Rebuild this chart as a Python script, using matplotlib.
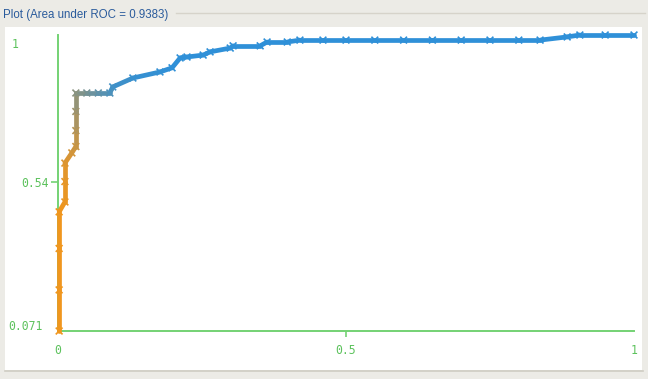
import matplotlib
matplotlib.use("Agg")
import matplotlib.pyplot as plt
from matplotlib.collections import LineCollection
from matplotlib.colors import LinearSegmentedColormap
from matplotlib.patches import Rectangle
from matplotlib.lines import Line2D
import numpy as np

# ROC points (false positive rate, true positive rate)
fpr = [0.002, 0.002, 0.002, 0.002, 0.012, 0.012, 0.012, 0.024, 0.031,
       0.031, 0.031, 0.031, 0.05, 0.07, 0.09, 0.095, 0.13, 0.177, 0.198,
       0.212, 0.224, 0.252, 0.264, 0.299, 0.304, 0.351, 0.363, 0.398, 0.42,
       0.46, 0.5, 0.55, 0.6, 0.65, 0.7, 0.75, 0.8, 0.837, 0.884, 0.906,
       0.95, 1.0]
tpr = [0.071, 0.20, 0.33, 0.445, 0.476, 0.54, 0.598, 0.63, 0.65,
       0.70, 0.76, 0.818, 0.818, 0.818, 0.818, 0.837, 0.865, 0.884, 0.897,
       0.928, 0.931, 0.937, 0.947, 0.959, 0.966, 0.966, 0.978, 0.978, 0.984,
       0.984, 0.984, 0.984, 0.984, 0.984, 0.984, 0.984, 0.984, 0.984, 0.994, 1.0,
       1.0, 1.0]
# colour value along the curve (1 = orange, 0 = blue)
threshold = [1, 1, 1, 1, 0.97, 0.95, 0.9, 0.85, 0.8,
             0.7, 0.58, 0.47, 0.37, 0.26, 0.16, 0.1, 0.05, 0.02, 0,
             0, 0, 0, 0, 0, 0, 0, 0, 0, 0,
             0, 0, 0, 0, 0, 0, 0, 0, 0, 0, 0,
             0, 0]
auc = 0.9383

cmap = LinearSegmentedColormap.from_list("roc", ["#2f90d8", "#f0961e"])
bg = "#ecebe6"
axis_green = "#74d274"
label_green = "#5cc25c"

fig = plt.figure(figsize=(6.48, 3.79), dpi=100, facecolor=bg)
W, H = 648, 379

# white panel + frame
fig.patches.append(Rectangle((5 / W, 1 - 370 / H), 637 / W, 343 / H,
                             transform=fig.transFigure, facecolor="white",
                             edgecolor="none", zorder=-1))
fig.lines.append(Line2D([5 / W, 643 / W], [1 - 371 / H, 1 - 371 / H],
                        transform=fig.transFigure, color="#cfccc3", lw=1.2))
fig.lines.append(Line2D([176 / W, 645 / W], [1 - 12.5 / H, 1 - 12.5 / H],
                        transform=fig.transFigure, color="#d6d3ca", lw=1))
fig.text(3 / W, 1 - 15 / H, f"Plot (Area under ROC = {auc})",
         family="Liberation Sans", fontsize=8.3, color="#2a5b9c",
         ha="left", va="center")

ax = fig.add_axes([58 / W, 1 - 331 / H, 576 / W, 296 / H], zorder=2)
ax.set_facecolor("none")
ax.set_xlim(0, 1)
ax.set_ylim(0.071, 1)
for s in ["top", "right"]:
    ax.spines[s].set_visible(False)
for s in ["left", "bottom"]:
    ax.spines[s].set_color(axis_green)
    ax.spines[s].set_linewidth(1.4)

x = np.array(fpr)
y = np.array(tpr)
t = np.array(threshold)
segs = np.stack([np.column_stack([x[:-1], y[:-1]]),
                 np.column_stack([x[1:], y[1:]])], axis=1)
lc = LineCollection(segs, colors=cmap((t[:-1] + t[1:]) / 2), linewidths=3.4,
                    capstyle="round", clip_on=False, zorder=3)
ax.add_collection(lc)
ax.scatter(x, y, marker="x", s=24, linewidths=1.2, c=cmap(t),
           clip_on=False, zorder=4)

tick_font = dict(family="DejaVu Sans Mono", fontsize=8.3, color=label_green)
ax.set_xticks([0, 0.5, 1], ["0", "0.5", "1"], **tick_font)
ax.tick_params(axis="x", length=4, width=1.2, color=axis_green, pad=5)
ax.xaxis.get_major_ticks()[0].tick1line.set_visible(False)
ax.xaxis.get_major_ticks()[2].tick1line.set_visible(False)

ax.set_yticks([0.54], ["0.54"], **tick_font)
ax.tick_params(axis="y", length=5, width=1.2, color=axis_green, pad=1.5)
ax.text(-46 / 576, 1 - 9 / 296, "1", transform=ax.transAxes, ha="left",
        va="center", **tick_font)
ax.text(-50 / 576, 5 / 296, "0.071", transform=ax.transAxes, ha="left",
        va="center", **tick_font)

fig.savefig("out.png", dpi=100, facecolor=bg)
